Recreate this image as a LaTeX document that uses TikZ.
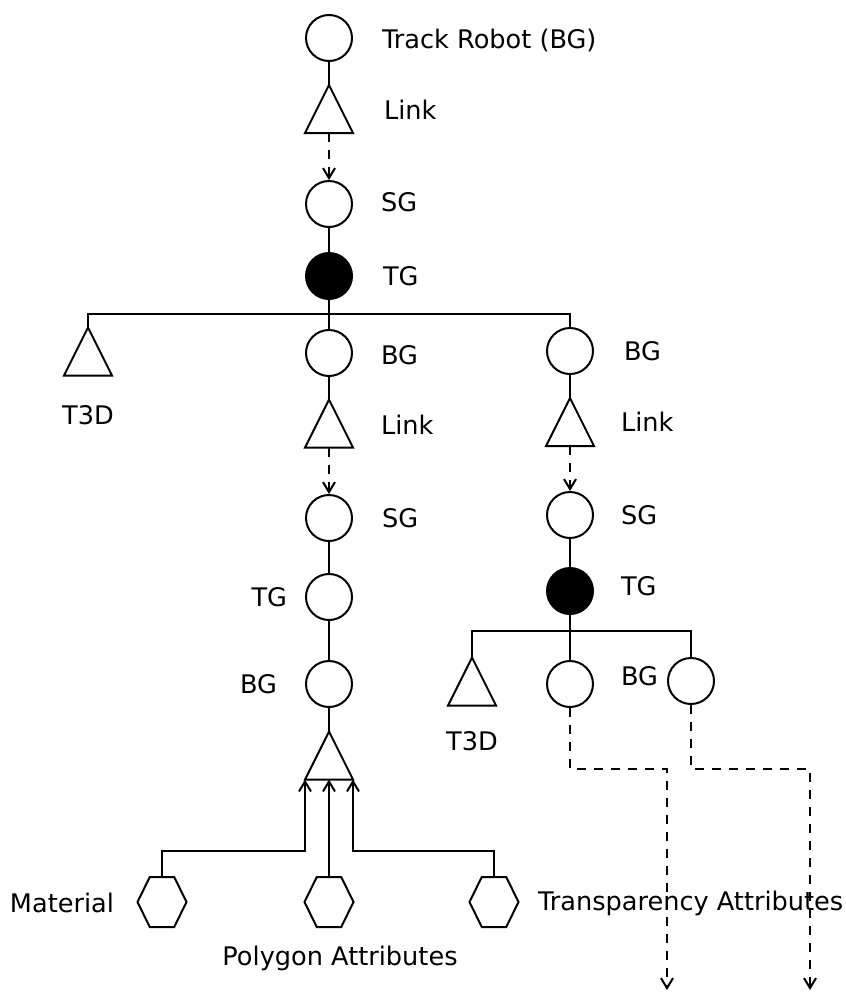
\documentclass[tikz,border=0pt]{standalone}
\usepackage{fontspec}
\setmainfont{DejaVu Sans}
\usetikzlibrary{arrows.meta}
\usetikzlibrary{calc}

\begin{document}
\begin{tikzpicture}[x=0.5pt,y=-0.5pt,line width=1pt,
    every node/.style={font=\fontsize{12.8}{15}\selectfont},
    grp/.style={circle,draw,inner sep=0pt,minimum size=23pt},
    tgrp/.style={grp,fill=black},
    tri/.style={inner sep=0pt,minimum width=23pt,minimum height=23pt},
    hex/.style={inner sep=0pt,minimum width=23.5pt,minimum height=24pt},
    lbl/.style={inner sep=0pt,anchor=west},
    lbll/.style={inner sep=0pt,anchor=east},
    lblc/.style={inner sep=0pt},
    ref/.style={dash pattern=on 4.5pt off 4pt,-{Straight Barb[length=5pt,width=6pt]}},
    attr/.style={-{Straight Barb[length=5pt,width=6pt]}}]

      \useasboundingbox (0,0) rectangle (846,996);

      % main branch
      \node[grp]  (robot) at (329,38)  {};
      \node[tri]  (link1) at (329,109) {};
      \node[grp]  (sg1)   at (329,204) {};
      \node[tgrp] (tg1)   at (329,276) {};
      \node[tri]  (t3d1)  at (88,351.5) {};
      \node[grp]  (bg2)   at (329,353) {};
      \node[tri]  (link2) at (329,423.5) {};
      \node[grp]  (sg2)   at (329,518) {};
      \node[grp]  (tg2)   at (329,597) {};
      \node[grp]  (bg3)   at (329,684) {};
      \node[tri]  (poly)  at (329,755.5) {};
      \node[hex]  (mat)   at (162,902) {};
      \node[hex]  (pat)   at (329,902) {};
      \node[hex]  (trans) at (494,902) {};

      % right branch
      \node[grp]  (bg4)   at (570,351) {};
      \node[tri]  (link3) at (570,422) {};
      \node[grp]  (sg4)   at (570,515) {};
      \node[tgrp] (tg4)   at (570,591) {};
      \node[tri]  (t3d2)  at (472,681.5) {};
      \node[grp]  (bg5)   at (570,684) {};
      \node[grp]  (bg6)   at (691,681) {};

      \foreach \t in {link1,t3d1,link2,poly,link3,t3d2}
        \draw (\t.south west) -- (\t.north) -- (\t.south east) -- cycle;
      \foreach \h in {mat,pat,trans}
        \draw (\h.west) -- ($(\h.north west)!0.25!(\h.north east)$)
          -- ($(\h.north west)!0.75!(\h.north east)$) -- (\h.east)
          -- ($(\h.south west)!0.75!(\h.south east)$)
          -- ($(\h.south west)!0.25!(\h.south east)$) -- cycle;

      \coordinate (bar1) at (0,314);
      \coordinate (bar2) at (0,631);
      \coordinate (join) at (0,851);
      \coordinate (turn) at (0,769);
      \coordinate (endA) at (667,990);
      \coordinate (endB) at (810,990);

      \draw (robot) -- (link1.north);
      \draw[ref] (link1.south) -- (sg1);
      \draw (sg1) -- (tg1);
      \draw (tg1) -- (bg2);
      \draw (t3d1.north) -- (t3d1.north |- bar1) -- (bg4.north |- bar1) -- (bg4);
      \draw (bg2) -- (link2.north);
      \draw[ref] (link2.south) -- (sg2);
      \draw (sg2) -- (tg2);
      \draw (tg2) -- (bg3);
      \draw (bg3) -- (poly.north);
      \draw[attr] (mat.north) |- (poly.south west |- join) -- (poly.south west);
      \draw[attr] (pat.north) -- (poly.south);
      \draw[attr] (trans.north) |- (poly.south east |- join) -- (poly.south east);

      \draw (bg4) -- (link3.north);
      \draw[ref] (link3.south) -- (sg4);
      \draw (sg4) -- (tg4);
      \draw (tg4) -- (bg5);
      \draw (t3d2.north) -- (t3d2.north |- bar2) -- (bg6.north |- bar2) -- (bg6);
      \draw[ref] (bg5) |- (endA |- turn) -- (endA);
      \draw[ref] (bg6) |- (endB |- turn) -- (endB);

      % labels
      \node[lbl]  (lrobot) at (381,40)  {Track Robot (BG)};
      \node[lbl]  (llink1) at (383,110) {Link};
      \node[lbl]  (lsg1)   at (380,202) {SG};
      \node[lbl]  (ltg1)   at (382,276) {TG};
      \node[lbl]  (lbg2)   at (380,355) {BG};
      \node[lblc] (lt3d1)  at (88,415)  {T3D};
      \node[lbl]  (llink2) at (380,425) {Link};
      \node[lbl]  (lsg2)   at (381,518) {SG};
      \node[lbll] (ltg2)   at (288,597) {TG};
      \node[lbll] (lbg3)   at (278,684) {BG};
      \node[lbl]  (lbg4)   at (623,351) {BG};
      \node[lbl]  (llink3) at (620,422) {Link};
      \node[lbl]  (lsg4)   at (620,515) {SG};
      \node[lbl]  (ltg4)   at (620,586) {TG};
      \node[lbl]  (lbg5)   at (620,676) {BG};
      \node[lblc] (lt3d2)  at (472,741) {T3D};
      \node[lbll] (lmat)   at (115,903) {Material};
      \node[lblc] (lpat)   at (340,958) {Polygon Attributes};
      \node[lbl]  (ltrans) at (537,903) {Transparency Attributes};
    \end{tikzpicture}
\end{document}
